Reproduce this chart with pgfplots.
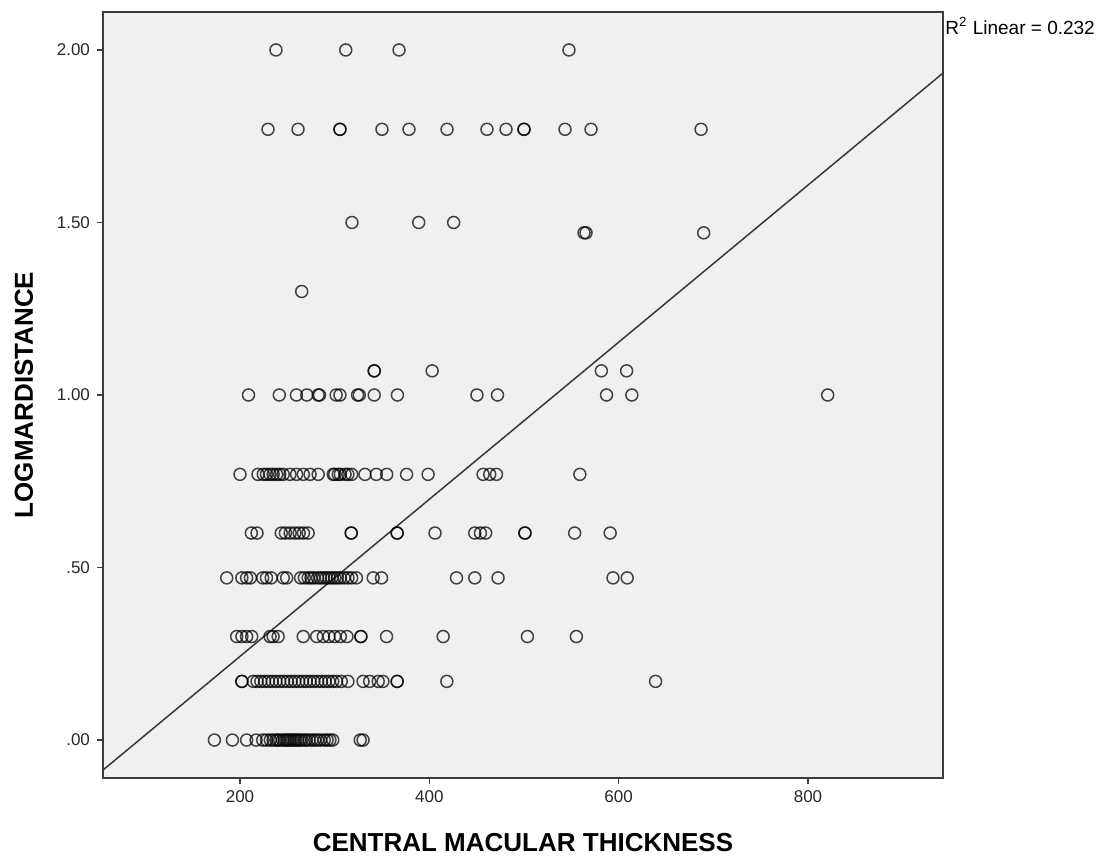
\documentclass[border=0pt]{standalone}
\usepackage{fontspec}
\setmainfont{Liberation Sans}
\usepackage{pgfplots}
\usepackage{pgfplotstable}
\pgfplotsset{compat=1.18}
\definecolor{bgc}{HTML}{F0F0F0}
\definecolor{framec}{HTML}{3C3C3C}
\pgfplotstableread{
x y
173 0.00
192 0.00
207 0.00
217 0.00
224 0.00
228 0.00
232 0.00
235 0.00
238 0.00
240 0.00
242 0.00
245 0.00
247 0.00
249 0.00
251 0.00
253 0.00
255 0.00
257 0.00
259 0.00
261 0.00
263 0.00
265 0.00
268 0.00
270 0.00
273 0.00
276 0.00
279 0.00
282 0.00
285 0.00
289 0.00
292 0.00
295 0.00
298 0.00
327 0.00
330 0.00
202 0.17
202 0.17
214 0.17
218 0.17
222 0.17
226 0.17
230 0.17
234 0.17
238 0.17
242 0.17
246 0.17
250 0.17
254 0.17
258 0.17
262 0.17
266 0.17
270 0.17
274 0.17
278 0.17
282 0.17
286 0.17
290 0.17
294 0.17
298 0.17
302 0.17
307 0.17
314 0.17
330 0.17
337 0.17
346 0.17
351 0.17
366 0.17
366 0.17
418.5 0.17
639 0.17
196.5 0.30
202 0.30
207 0.30
212.4 0.30
231.7 0.30
235 0.30
240.3 0.30
266.8 0.30
281 0.30
288 0.30
294 0.30
300 0.30
306 0.30
313 0.30
327.7 0.30
327.7 0.30
354.8 0.30
414.6 0.30
503.6 0.30
555.3 0.30
186 0.47
202 0.47
207 0.47
211 0.47
224 0.47
228 0.47
233 0.47
245.7 0.47
249.3 0.47
264 0.47
268 0.47
272 0.47
275 0.47
278 0.47
282 0.47
285 0.47
288 0.47
291 0.47
294 0.47
297 0.47
300 0.47
303 0.47
306 0.47
310 0.47
314 0.47
318 0.47
323 0.47
340.7 0.47
349.5 0.47
428.7 0.47
448 0.47
472.6 0.47
594 0.47
609 0.47
212 0.60
218 0.60
243.6 0.60
248 0.60
253 0.60
258 0.60
262.5 0.60
267 0.60
272 0.60
317.5 0.60
317.5 0.60
366 0.60
366 0.60
406 0.60
448 0.60
454 0.60
459.5 0.60
501 0.60
501 0.60
553.5 0.60
591 0.60
200 0.77
219 0.77
224.6 0.77
228 0.77
231.7 0.77
235 0.77
238.7 0.77
242 0.77
245.7 0.77
252.8 0.77
259.8 0.77
266.9 0.77
274 0.77
282.6 0.77
298.5 0.77
300 0.77
303.8 0.77
306 0.77
311 0.77
314 0.77
318 0.77
332 0.77
344 0.77
355 0.77
376 0.77
398.7 0.77
456.8 0.77
463.8 0.77
470.9 0.77
559 0.77
209 1.00
241.5 1.00
259.6 1.00
270.6 1.00
282.6 1.00
284 1.00
301.6 1.00
305.6 1.00
324.2 1.00
326 1.00
341.8 1.00
366.3 1.00
450.3 1.00
472 1.00
587.2 1.00
613.9 1.00
820.8 1.00
341.8 1.07
341.8 1.07
403 1.07
581.7 1.07
608.4 1.07
265.2 1.30
563.4 1.47
565.5 1.47
689.8 1.47
318.3 1.50
388.8 1.50
425.7 1.50
229.6 1.77
261.3 1.77
305.6 1.77
305.6 1.77
350 1.77
378.5 1.77
418.7 1.77
460.9 1.77
481 1.77
500 1.77
500 1.77
543.3 1.77
570.8 1.77
687 1.77
238 2.00
311.7 2.00
368 2.00
547.5 2.00
}\cmtdata
\begin{document}
\begin{tikzpicture}
\begin{axis}[name=ax, scale only axis, width=420pt, height=383pt,
  xmin=55.3, xmax=942.6, ymin=-0.11, ymax=2.11,
  axis background/.style={fill=bgc},
  axis line style={draw=framec, line width=1pt},
  xtick={200,400,600,800}, xticklabels={200,400,600,800},
  ytick={0,0.5,1,1.5,2}, yticklabels={.00,.50,1.00,1.50,2.00},
  tick align=outside, tick pos=left,
  major tick length=3pt,
  tick style={draw=framec, line width=0.8pt},
  ticklabel style={font=\fontsize{8.5}{10}\selectfont, text=black!85},
  xlabel={CENTRAL MACULAR THICKNESS}, ylabel={LOGMARDISTANCE},
  label style={font=\fontsize{13}{15}\selectfont\bfseries},
  xlabel style={at={(axis description cs:0.5,-0.0849)}, anchor=center},
  ylabel style={at={(axis description cs:-0.094,0.5)}, anchor=center},
  clip=true]
\addplot[only marks, mark=o, mark size=3pt,
  mark options={draw=black, draw opacity=0.72, line width=0.75pt}]
  table[x=x, y=y] {\cmtdata};
\addplot[draw=black!78, line width=0.75pt] coordinates {(55.3,-0.087) (942.6,1.933)};
\end{axis}
\node[anchor=north west, inner sep=0pt, font=\fontsize{9.5}{11}\selectfont]
  at ([shift={(1pt,-2.5pt)}]ax.north east) {R\textsuperscript{2} Linear = 0.232};
\pgfresetboundingbox
\path ([shift={(-51.5pt,-39.5pt)}]ax.south west) rectangle ([shift={(78.5pt,6pt)}]ax.north east);
\end{tikzpicture}
\end{document}
